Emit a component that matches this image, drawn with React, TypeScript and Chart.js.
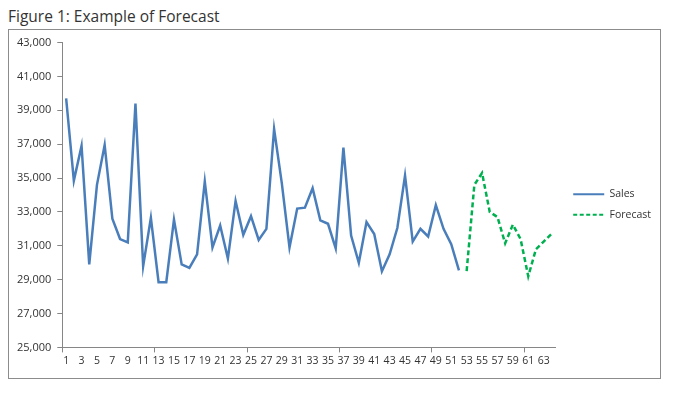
import React, { useEffect, useRef } from "react";
import { Chart, registerables } from "chart.js";

Chart.register(...registerables);

const titleText = "Figure 1: Example of Forecast";

const categories = [
  "1", "2", "3", "4", "5", "6", "7", "8", "9", "10",
  "11", "12", "13", "14", "15", "16", "17", "18", "19", "20",
  "21", "22", "23", "24", "25", "26", "27", "28", "29", "30",
  "31", "32", "33", "34", "35", "36", "37", "38", "39", "40",
  "41", "42", "43", "44", "45", "46", "47", "48", "49", "50",
  "51", "52", "53", "54", "55", "56", "57", "58", "59", "60",
  "61", "62", "63", "64",
];

const salesValues = [
  39700, 34850, 36900, 29900, 34600, 36950, 32600, 31400, 31200, 39400,
  29800, 32650, 28850, 28850, 32550, 29900, 29700, 30500, 34800, 30900,
  32200, 30250, 33650, 31650, 32750, 31350, 32000, 37900, 34700, 30900,
  33200, 33250, 34400, 32500, 32300, 30850, 36800, 31600, 30000, 32400,
  31700, 29500, 30500, 32050, 35150, 31250, 32000, 31550, 33400, 32000,
  31100, 29550,
];

const forecastValues = [
  29500, 34600, 35300, 33000, 32700, 31150, 32250, 31400, 29200, 30800,
  31250, 31700,
];

const seriesNames = ["Sales", "Forecast"];

const yMin = 25000;
const yMax = 43000;
const yStep = 2000;

const FONT = "'Open Sans', 'Liberation Sans', sans-serif";
const TEXT = "#333333";
const AXIS = "#868686";

const legendShift = {
  id: "legendShift",
  afterLayout(chart: any) {
    const lg = chart.legend;
    if (!lg) return;
    const w = lg.right - lg.left;
    lg.left = chart.chartArea.right + 8;
    lg.right = lg.left + w;
    lg.top += -1;
    lg.bottom += -1;
  },
};

export default function App() {
  const ref = useRef<HTMLCanvasElement | null>(null);

  useEffect(() => {
    if (!ref.current) return;
    const salesData = [...salesValues, ...forecastValues.map(() => null)];
    const forecastData = [...salesValues.map(() => null), ...forecastValues];
    const chart = new Chart(ref.current, {
      type: "line",
      data: {
        labels: categories,
        datasets: [
          {
            label: seriesNames[0],
            data: salesData,
            borderColor: "#4a7ebb",
            backgroundColor: "#4a7ebb",
            borderWidth: 2.5,
            pointRadius: 0,
            tension: 0,
            spanGaps: false,
          },
          {
            label: seriesNames[1],
            data: forecastData,
            borderColor: "#00b050",
            backgroundColor: "#00b050",
            borderWidth: 2.5,
            borderDash: [5, 3],
            pointRadius: 0,
            tension: 0,
            spanGaps: false,
          },
        ],
      },
      options: {
        animation: false,
        responsive: false,
        layout: { padding: { left: 2, right: 7, top: 12, bottom: 9 } },
        plugins: {
          title: { display: false },
          tooltip: { enabled: false },
          legend: {
            position: "right",
            labels: {
              usePointStyle: true,
              pointStyle: "line",
              pointStyleWidth: 31,
              padding: 10,
              color: TEXT,
              font: { family: FONT, size: 10.5 },
              generateLabels: (ch: any) => {
                const items = (Chart as any).defaults.plugins.legend.labels.generateLabels(ch);
                items.forEach((it: any) => {
                  const ds = ch.data.datasets[it.datasetIndex];
                  it.lineDash = ds.borderDash ? [4, 2.5] : [];
                  it.lineWidth = 2;
                });
                return items;
              },
            },
          },
        },
        scales: {
          x: {
            type: "category",
            offset: true,
            grid: {
              offset: true,
              drawOnChartArea: false,
              drawTicks: true,
              tickLength: 5,
              color: (ctx: any) =>
                ctx.index !== undefined && ctx.index % 12 === 0 ? AXIS : "rgba(0,0,0,0)",
            },
            border: { color: AXIS, width: 1 },
            ticks: {
              autoSkip: false,
              maxRotation: 0,
              minRotation: 0,
              padding: 2,
              color: TEXT,
              font: { family: FONT, size: 10.5 },
              callback: function (this: any, value: any, index: number) {
                return index % 2 === 0 ? this.getLabelForValue(value) : "";
              },
            },
          },
          y: {
            min: yMin,
            max: yMax,
            grid: { drawOnChartArea: false, tickLength: 5, color: AXIS },
            border: { color: AXIS, width: 1 },
            ticks: {
              stepSize: yStep,
              padding: 6,
              color: TEXT,
              font: { family: FONT, size: 11 },
              callback: (v: any) => Number(v).toLocaleString("en-US"),
            },
          },
        },
      },
      plugins: [legendShift],
    });
    return () => chart.destroy();
  }, []);

  return (
    <div style={{ width: 653, fontFamily: FONT }}>
      <div
        style={{
          height: 21,
          lineHeight: "17px",
          fontSize: 15.5,
          color: "#333",
          whiteSpace: "nowrap",
        }}
      >
        {titleText}
      </div>
      <div
        style={{
          width: 653,
          height: 350,
          boxSizing: "border-box",
          border: "1px solid #8c8c8c",
        }}
      >
        <canvas ref={ref} width={651} height={348} style={{ display: "block" }} />
      </div>
    </div>
  );
}
